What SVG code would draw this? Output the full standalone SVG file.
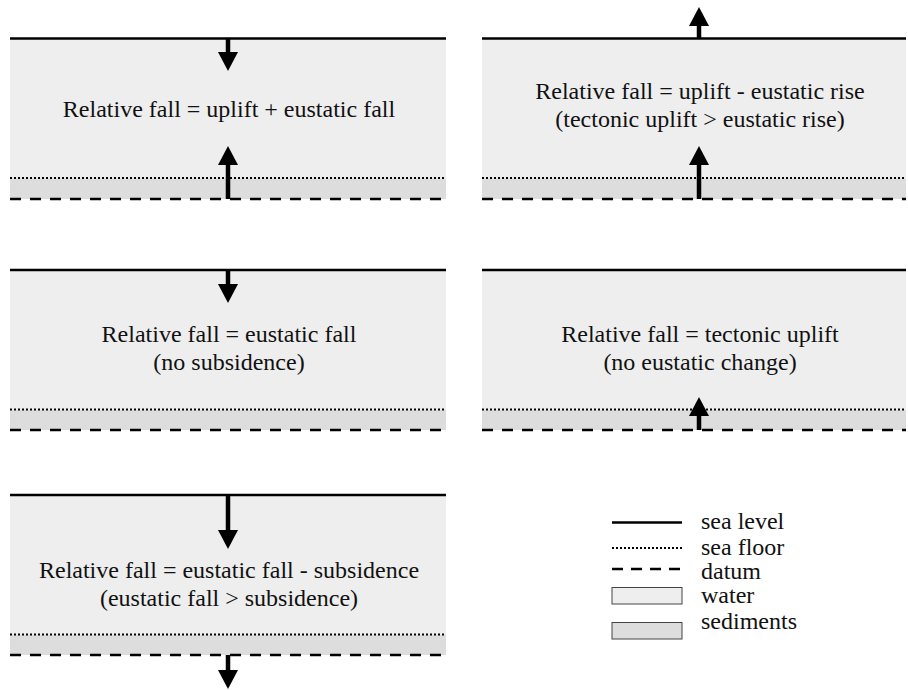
<svg xmlns="http://www.w3.org/2000/svg" width="908" height="690" viewBox="0 0 908 690">
  <style>
    .water { fill: #eeeeee; }
    .sed { fill: #dddddd; }
    .sea { stroke: #000; stroke-width: 2.5; fill: none; }
    .floor { stroke: #000; stroke-width: 2; stroke-dasharray: 2 2; fill: none; }
    .datum { stroke: #000; stroke-width: 2.5; stroke-dasharray: 11 9; fill: none; }
    .shaft { stroke: #000; stroke-width: 4.5; fill: none; marker-end: url(#head); }
    text { font-family: 'Liberation Serif', 'DejaVu Serif', serif; font-size: 24px; fill: #111; }
    .lbl { text-anchor: middle; }
    .swatch { stroke: #444; stroke-width: 1; }
  </style>
  <defs>
    <marker id="head" markerUnits="userSpaceOnUse" viewBox="0 -10 19 20" markerWidth="19" markerHeight="20" refX="0" refY="0" orient="auto">
      <path d="M0,-10 L19,0 L0,10 Z" fill="#000"/>
    </marker>
  </defs>
  <rect width="908" height="690" fill="#fff"/>

  <!-- uplift + eustatic fall -->
  <g id="panel-uplift-eustatic-fall">
    <rect class="water" x="10" y="38.5" width="436" height="140"/>
    <rect class="sed" x="10" y="178.5" width="436" height="20.5"/>
    <line class="sea" x1="10" y1="38.5" x2="446" y2="38.5"/>
    <line class="floor" x1="10" y1="178" x2="446" y2="178"/>
    <line class="datum" x1="10" y1="199" x2="446" y2="199"/>
    <text class="lbl" x="229" y="117" font-family="Liberation Serif, serif">Relative fall = uplift + eustatic fall</text>
  </g>

  <!-- uplift - eustatic rise -->
  <g id="panel-uplift-eustatic-rise">
    <rect class="water" x="482" y="38.5" width="424" height="140"/>
    <rect class="sed" x="482" y="178.5" width="424" height="20.5"/>
    <line class="sea" x1="482" y1="38.5" x2="906" y2="38.5"/>
    <line class="floor" x1="482" y1="178" x2="906" y2="178"/>
    <line class="datum" x1="482" y1="199" x2="906" y2="199"/>
    <text class="lbl" x="700" y="99">Relative fall = uplift - eustatic rise</text>
    <text class="lbl" x="700" y="127">(tectonic uplift &gt; eustatic rise)</text>
  </g>

  <!-- eustatic fall only -->
  <g id="panel-eustatic-fall">
    <rect class="water" x="10" y="270" width="436" height="140"/>
    <rect class="sed" x="10" y="410" width="436" height="20"/>
    <line class="sea" x1="10" y1="270" x2="446" y2="270"/>
    <line class="floor" x1="10" y1="409.5" x2="446" y2="409.5"/>
    <line class="datum" x1="10" y1="430" x2="446" y2="430"/>
    <text class="lbl" x="229" y="342">Relative fall = eustatic fall</text>
    <text class="lbl" x="229" y="370">(no subsidence)</text>
  </g>

  <!-- tectonic uplift only -->
  <g id="panel-tectonic-uplift">
    <rect class="water" x="482" y="270" width="424" height="140"/>
    <rect class="sed" x="482" y="410" width="424" height="20"/>
    <line class="sea" x1="482" y1="270" x2="906" y2="270"/>
    <line class="floor" x1="482" y1="409.5" x2="906" y2="409.5"/>
    <line class="datum" x1="482" y1="430" x2="906" y2="430"/>
    <text class="lbl" x="700" y="342">Relative fall = tectonic uplift</text>
    <text class="lbl" x="700" y="370">(no eustatic change)</text>
  </g>

  <!-- eustatic fall - subsidence -->
  <g id="panel-eustatic-fall-subsidence">
    <rect class="water" x="10" y="495" width="436" height="140"/>
    <rect class="sed" x="10" y="635" width="436" height="20"/>
    <line class="sea" x1="10" y1="495" x2="446" y2="495"/>
    <line class="floor" x1="10" y1="634.5" x2="446" y2="634.5"/>
    <line class="datum" x1="10" y1="655" x2="446" y2="655"/>
    <text class="lbl" x="229" y="578">Relative fall = eustatic fall - subsidence</text>
    <text class="lbl" x="229" y="606">(eustatic fall &gt; subsidence)</text>
  </g>

  <!-- movement arrows -->
  <g id="arrows">
    <line class="shaft" x1="228" y1="38" x2="228" y2="52"/>
    <line class="shaft" x1="228" y1="199" x2="228" y2="165"/>
    <line class="shaft" x1="699" y1="39" x2="699" y2="26"/>
    <line class="shaft" x1="699" y1="199" x2="699" y2="165"/>
    <line class="shaft" x1="228" y1="270" x2="228" y2="284"/>
    <line class="shaft" x1="699" y1="430" x2="699" y2="416"/>
    <line class="shaft" x1="228" y1="495" x2="228" y2="530"/>
    <line class="shaft" x1="228" y1="655" x2="228" y2="670"/>
  </g>

  <!-- key -->
  <g id="legend">
    <line class="sea" x1="612" y1="522.5" x2="682" y2="522.5"/>
    <line class="floor" x1="612" y1="548" x2="682" y2="548"/>
    <line class="datum" x1="612" y1="569" x2="682" y2="569" style="stroke-dasharray: 11 8"/>
    <rect class="water swatch" x="612" y="587.5" width="70" height="16.5"/>
    <rect class="sed swatch" x="612" y="622.5" width="70" height="16.5"/>
    <text x="701" y="529">sea level</text>
    <text x="701" y="555">sea floor</text>
    <text x="701" y="579">datum</text>
    <text x="701" y="603">water</text>
    <text x="701" y="629">sediments</text>
  </g>
</svg>
